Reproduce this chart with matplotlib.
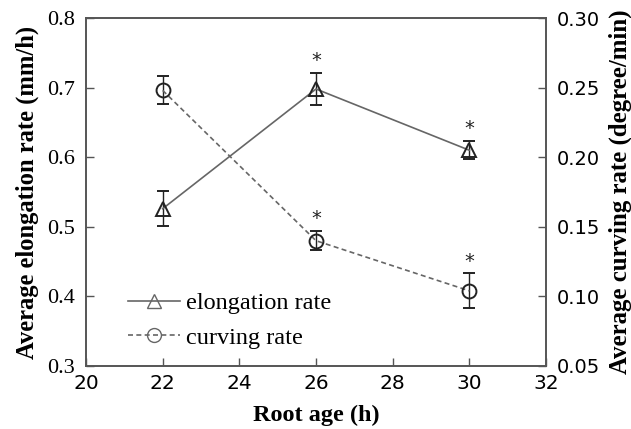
import matplotlib
matplotlib.use("Agg")
import matplotlib.pyplot as plt
from matplotlib.lines import Line2D

# root age (h)
age = [22, 26, 30]

# elongation rate (mm/h) with error
elong = [0.526, 0.698, 0.610]
elong_err = [0.025, 0.023, 0.013]

# curving rate (degree/min) with error
curv = [0.248, 0.140, 0.104]
curv_err = [0.010, 0.007, 0.0125]

# which points carry a significance star
elong_star = [False, True, True]
curv_star = [False, True, True]

xticks = [20, 22, 24, 26, 28, 30, 32]
yticks_left = [0.3, 0.4, 0.5, 0.6, 0.7, 0.8]
yticks_right = [0.05, 0.10, 0.15, 0.20, 0.25, 0.30]

serif = "Liberation Serif"
sans = "DejaVu Sans"
lc = "#666666"
mc = "#222222"
dash = (0, (3, 2))

fig = plt.figure(figsize=(6.31, 4.29), dpi=100)
ax = fig.add_axes([0.1363, 0.1469, 0.7290, 0.8111])
ax2 = ax.twinx()

ax.errorbar(age, elong, yerr=elong_err, color=lc, lw=1.2, marker="^",
            ms=10, mfc="none", mec=mc, mew=1.4, ecolor=mc, elinewidth=1.0,
            capsize=4, capthick=1.0)
ax2.errorbar(age, curv, yerr=curv_err, color=lc, lw=1.2, ls=dash,
             marker="o", ms=10, mfc="none", mec=mc, mew=1.4, ecolor=mc,
             elinewidth=1.0, capsize=4, capthick=1.0)

for x, y, e, s in zip(age, elong, elong_err, elong_star):
    if s:
        ax.annotate("*", (x, y + e), xytext=(0, 2), textcoords="offset points",
                    ha="center", va="bottom", fontsize=14, color=mc,
                    family=sans)
for x, y, e, s in zip(age, curv, curv_err, curv_star):
    if s:
        ax2.annotate("*", (x, y + e), xytext=(0, 2), textcoords="offset points",
                     ha="center", va="bottom", fontsize=14, color=mc,
                     family=sans)

ax.set_xlim(20, 32)
ax.set_ylim(0.3, 0.8)
ax2.set_ylim(0.05, 0.30)

ax.set_xticks(xticks)
ax.set_xticklabels([str(t) for t in xticks], family=sans, fontsize=14.5)
ax.set_yticks(yticks_left)
ax.set_yticklabels(["%.1f" % t for t in yticks_left], family=serif, fontsize=16)
ax2.set_yticks(yticks_right)
ax2.set_yticklabels(["%.2f" % t for t in yticks_right], family=sans, fontsize=14)

ax.tick_params(direction="in", length=6, width=1, color="#555555", pad=8)
ax2.tick_params(direction="in", length=6, width=1, color="#555555", pad=8)
ax.tick_params(axis="x", pad=6)

for a in (ax, ax2):
    for sp in a.spines.values():
        sp.set_color("#555555")
        sp.set_linewidth(1.2)

ax.set_xlabel("Root age (h)", family=serif, fontweight="bold", fontsize=17.5,
              labelpad=8)
ax.set_ylabel("Average elongation rate (mm/h)", family=serif, fontweight="bold",
              fontsize=17.7, labelpad=6)
ax2.set_ylabel("Average curving rate (degree/min)", family=serif,
               fontweight="bold", fontsize=17.9, labelpad=6)

# legend handles without the error bars
hl1 = Line2D([], [], color=lc, lw=1.2, marker="^", ms=10, mfc="none",
             mec=lc, mew=1.0)
hl2 = Line2D([], [], color=lc, lw=1.2, ls=dash, marker="o", ms=10,
             mfc="none", mec=lc, mew=1.0)
ax.legend([hl1, hl2], ["elongation rate", "curving rate"], loc="lower left",
          bbox_to_anchor=(0.091, 0.05), borderaxespad=0, borderpad=0,
          frameon=False, numpoints=1, handlelength=2.15, handletextpad=0.25,
          labelspacing=0.5, prop={"family": serif, "size": 17.5})

fig.savefig("out.png", dpi=100)
